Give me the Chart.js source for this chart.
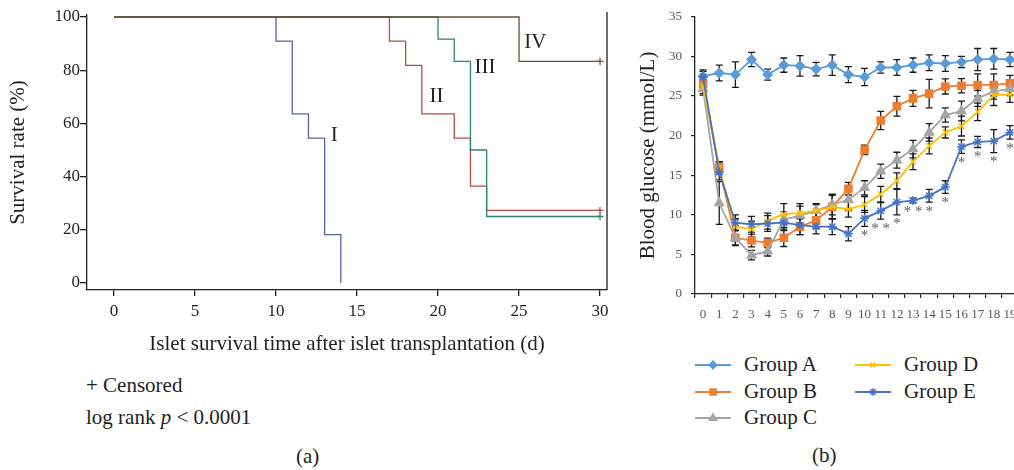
<!DOCTYPE html>
<html>
<head>
<meta charset="utf-8">
<title>Islet survival and blood glucose</title>
<script src="https://cdn.jsdelivr.net/npm/chart.js@4.4.1/dist/chart.umd.min.js"></script>
<style>
  html, body { margin: 0; padding: 0; background: #fff; overflow: hidden; }
  body { width: 1014px; height: 470px; position: relative; font-family: 'Liberation Serif', 'Times New Roman', serif; color: #231f20; }
  canvas { position: absolute; }
  #survChart { left: 0; top: 0; }
  #glucoseChart { left: 630px; top: 0; }
  .txt { position: absolute; font-size: 21px; line-height: 21px; white-space: nowrap; }
  .leg { position: absolute; height: 22px; width: 150px; }
  .leg canvas { left: 0; top: 4px; }
  .leg span { position: absolute; left: 49px; top: 0; font-size: 21px; line-height: 21px; white-space: nowrap; }
</style>
</head>
<body>
<canvas id="survChart" width="625" height="360"></canvas>
<canvas id="glucoseChart" width="420" height="330"></canvas>
<div class="txt" style="left:86px; top:375px;">+ Censored</div>
<div class="txt" style="left:86px; top:407px;">log rank <i>p</i> &lt; 0.0001</div>
<div class="txt" style="left:296px; top:446px;">(a)</div>
<div class="txt" style="left:812px; top:445px;">(b)</div>
<div id="legend"></div>
<script>
// ---- (a) islet survival, Kaplan-Meier ----
const survGroups = ['I', 'II', 'III', 'IV'];
const daysI = [0, 10, 11, 12, 13, 14];
const survI = [100, 90.9, 63.6, 54.5, 18.2, 0];
const daysII = [0, 17, 18, 19, 21, 22, 23, 30];
const survII = [100, 90.9, 81.8, 63.6, 54.5, 36.4, 27.3, 27.3];
const daysIII = [0, 20, 21, 22, 23, 30];
const survIII = [100, 91.7, 83.3, 50, 25, 25];
const daysIV = [0, 25, 30];
const survIV = [100, 83.3, 83.3];
const censored = [false, true, true, true];
const survTicksX = [0, 5, 10, 15, 20, 25, 30];
const survTicksY = [0, 20, 40, 60, 80, 100];
// where the group numerals are written (day, %)
const labelDay = [13.6, 19.9, 22.9, 26.0];
const labelSurv = [55.5, 70, 81, 90.5];

// ---- (b) blood glucose (mmol/L), mean and error ----
const days = ['0', '1', '2', '3', '4', '5', '6', '7', '8', '9', '10', '11', '12', '13', '14', '15', '16', '17', '18', '19'];
const groupNames = ['Group A', 'Group B', 'Group C', 'Group D', 'Group E'];
const groupA = [27.5, 27.9, 27.7, 29.6, 27.7, 28.9, 28.8, 28.4, 28.9, 27.7, 27.4, 28.6, 28.6, 28.9, 29.2, 29.1, 29.3, 29.6, 29.7, 29.6];
const errA = [0.8, 1.0, 1.6, 0.9, 0.7, 0.9, 1.3, 0.85, 1.3, 1.0, 1.1, 0.7, 1.0, 0.9, 1.0, 1.0, 0.7, 1.4, 1.3, 0.9];
const groupB = [26.5, 16.0, 7.1, 6.75, 6.45, 7.1, 8.5, 9.3, 11.0, 13.3, 18.2, 21.9, 23.7, 24.7, 25.3, 26.2, 26.3, 26.4, 26.4, 26.6];
const errB = [0.8, 0.7, 0.9, 0.8, 0.6, 1.1, 1.0, 1.0, 1.5, 0.8, 0.6, 1.15, 1.25, 1.0, 1.8, 0.95, 0.9, 1.4, 1.4, 1.0];
const groupC = [25.9, 11.5, 7.1, 4.9, 5.4, 9.4, 9.9, 10.5, 11.3, 11.9, 13.4, 15.5, 16.9, 18.3, 20.4, 22.6, 23.1, 24.7, 25.6, 25.9];
const errC = [0.8, 2.7, 1.0, 0.6, 0.6, 1.0, 1.2, 0.8, 1.3, 1.3, 0.9, 0.9, 1.0, 1.1, 1.1, 0.9, 1.25, 1.0, 1.0, 0.8];
const groupD = [26.2, 15.9, 8.5, 8.2, 9.2, 10.1, 10.2, 10.5, 11.0, 10.7, 11.3, 12.6, 14.3, 16.7, 18.7, 20.4, 21.2, 23.0, 25.1, 25.2];
const errD = [0.9, 0.8, 1.0, 1.0, 1.0, 1.3, 1.2, 0.9, 1.5, 1.0, 1.0, 1.0, 1.0, 1.0, 1.0, 0.7, 1.25, 1.1, 1.3, 1.0];
const groupE = [27.4, 15.4, 9.0, 8.8, 8.9, 9.0, 8.7, 8.5, 8.5, 7.6, 9.55, 10.5, 11.6, 11.8, 12.4, 13.5, 18.6, 19.2, 19.3, 20.4];
const errE = [0.7, 1.0, 1.0, 1.0, 1.0, 1.0, 1.2, 0.9, 1.0, 0.9, 1.0, 1.05, 1.6, 0.3, 0.8, 0.8, 0.85, 0.7, 1.45, 0.85];
// significance marks printed under group E
const sigE = ['', '', '', '', '', '', '', '', '', '', '*', '* *', '*', '* *', '*', '*', '*', '*', '*', '*'];

const serif = "'Liberation Serif', 'Times New Roman', serif";
const ink = '#231f20';

// ---------- chart (a) ----------
const survColors = ['#5566aa', '#b84a40', '#2f8378', '#6b4f36'];
const survDays = [daysI, daysII, daysIII, daysIV];
const survVals = [survI, survII, survIII, survIV];

const survDatasets = survGroups.map((g, i) => ({
  label: g,
  data: survDays[i].map((d, j) => ({ x: d, y: survVals[i][j] })),
  stepped: true,
  fill: false,
  borderColor: survColors[i],
  borderWidth: 1.3,
  pointStyle: 'cross',
  pointRadius: ctx => (censored[i] && ctx.dataIndex === survDays[i].length - 1) ? 3.5 : 0,
  pointHoverRadius: 0,
  pointBorderColor: survColors[i],
  pointBorderWidth: 1.3,
  order: 4 - i
}));

const survExtras = {
  id: 'survExtras',
  afterDatasetsDraw(chart) {
    const { ctx, chartArea, scales } = chart;
    ctx.save();
    // right side of the frame
    ctx.strokeStyle = ink;
    ctx.lineWidth = 1.3;
    ctx.beginPath();
    ctx.moveTo(chartArea.right, chartArea.top - 3);
    ctx.lineTo(chartArea.right, chartArea.bottom);
    ctx.stroke();
    // I, II, III, IV next to the curves
    ctx.fillStyle = ink;
    ctx.font = '21px ' + serif;
    ctx.textAlign = 'center';
    ctx.textBaseline = 'middle';
    survGroups.forEach((g, i) => {
      ctx.fillText(g, scales.x.getPixelForValue(labelDay[i]), scales.y.getPixelForValue(labelSurv[i]));
    });
    ctx.restore();
  }
};

new Chart(document.getElementById('survChart'), {
  type: 'line',
  data: { datasets: survDatasets },
  options: {
    responsive: false,
    animation: false,
    layout: { padding: { left: 2, top: 15, right: 18, bottom: 0 } },
    plugins: { legend: { display: false }, tooltip: { enabled: false } },
    scales: {
      x: {
        type: 'linear',
        min: -1.67,
        max: 30.43,
        afterBuildTicks: s => { s.ticks = survTicksX.map(v => ({ value: v })); },
        afterFit: s => { s.height = 70; },
        grid: { drawOnChartArea: false, tickLength: 6, color: ink, lineWidth: 1.3 },
        border: { color: ink, width: 1.3 },
        ticks: { color: ink, font: { family: serif, size: 17 }, padding: 5, maxRotation: 0 },
        title: {
          display: true,
          text: 'Islet survival time after islet transplantation (d)',
          color: ink,
          font: { family: serif, size: 21 },
          padding: { top: 0, bottom: 3 }
        }
      },
      y: {
        min: -2.63,
        max: 100.75,
        afterBuildTicks: s => { s.ticks = survTicksY.map(v => ({ value: v })); },
        afterFit: s => { s.width = 85; },
        grid: { drawOnChartArea: false, tickLength: 7, color: ink, lineWidth: 1.3 },
        border: { color: ink, width: 1.3 },
        ticks: { color: ink, font: { family: serif, size: 17 }, padding: 0 },
        title: {
          display: true,
          text: 'Survival rate (%)',
          color: ink,
          font: { family: serif, size: 21 },
          padding: { top: 4, bottom: 0 }
        }
      }
    }
  },
  plugins: [survExtras]
});

// ---------- chart (b) ----------
const glucoseColors = ['#5b9bd5', '#ed7d31', '#a5a5a5', '#ffc000', '#4472c4'];
const glucoseMarkers = ['rectRot', 'rect', 'triangle', 'crossRot', 'star'];
const markerSize = [4.5, 5, 5, 4, 4.5];
const glucoseVals = [groupA, groupB, groupC, groupD, groupE];
const glucoseErr = [errA, errB, errC, errD, errE];
const axisInk = '#262626';
const tickInk = '#595959';

const glucoseDatasets = groupNames.map((name, i) => ({
  label: name,
  data: glucoseVals[i],
  borderColor: glucoseColors[i],
  backgroundColor: glucoseColors[i],
  borderWidth: 1.8,
  pointStyle: glucoseMarkers[i],
  pointRadius: markerSize[i],
  pointHoverRadius: markerSize[i],
  pointBorderWidth: 1.5,
  tension: 0,
  fill: false,
  order: 5 - i
}));

const errorBars = {
  id: 'errorBars',
  beforeDatasetsDraw(chart) {
    const { ctx, scales: { y } } = chart;
    ctx.save();
    ctx.strokeStyle = '#1a1a1a';
    ctx.lineWidth = 1.3;
    chart.data.datasets.forEach((ds, i) => {
      chart.getDatasetMeta(i).data.forEach((pt, j) => {
        const v = glucoseVals[i][j];
        const e = glucoseErr[i][j];
        const top = y.getPixelForValue(v + e);
        const bot = y.getPixelForValue(v - e);
        ctx.beginPath();
        ctx.moveTo(pt.x, top); ctx.lineTo(pt.x, bot);
        ctx.moveTo(pt.x - 3.5, top); ctx.lineTo(pt.x + 3.5, top);
        ctx.moveTo(pt.x - 3.5, bot); ctx.lineTo(pt.x + 3.5, bot);
        ctx.stroke();
      });
    });
    ctx.restore();
  },
  afterDatasetsDraw(chart) {
    const { ctx, scales: { y } } = chart;
    const meta = chart.getDatasetMeta(4);
    ctx.save();
    ctx.fillStyle = tickInk;
    ctx.font = '15px ' + serif;
    ctx.textAlign = 'center';
    ctx.textBaseline = 'top';
    sigE.forEach((s, j) => {
      if (!s) return;
      ctx.fillText(s, meta.data[j].x, y.getPixelForValue(groupE[j] - errE[j]) + 2);
    });
    ctx.restore();
  }
};

new Chart(document.getElementById('glucoseChart'), {
  type: 'line',
  data: { labels: days, datasets: glucoseDatasets },
  options: {
    responsive: false,
    animation: false,
    layout: { padding: { left: 2, top: 13, right: 32, bottom: 0 } },
    plugins: { legend: { display: false }, tooltip: { enabled: false } },
    scales: {
      x: {
        offset: true,
        afterFit: s => { s.height = 36; },
        grid: { offset: true, drawOnChartArea: false, tickLength: 4, color: axisInk, lineWidth: 1.2 },
        border: { color: axisInk, width: 1.3 },
        ticks: { color: tickInk, font: { family: serif, size: 13 }, padding: 9, maxRotation: 0, autoSkip: false }
      },
      y: {
        min: 0,
        max: 35,
        afterFit: s => { s.width = 63; },
        grid: { drawOnChartArea: false, tickLength: 4, color: axisInk, lineWidth: 1.2 },
        border: { color: axisInk, width: 1.3 },
        ticks: { stepSize: 5, color: tickInk, font: { family: serif, size: 13 }, padding: 9 },
        title: {
          display: true,
          text: 'Blood glucose (mmol/L)',
          color: ink,
          font: { family: serif, size: 21 },
          padding: { top: 4, bottom: 0 }
        }
      }
    }
  },
  plugins: [errorBars]
});

// legend for (b): three rows, two columns
const legendX = [695, 855];
const legendY = [365, 392, 418];
const legend = document.getElementById('legend');
groupNames.forEach((name, i) => {
  const col = Math.floor(i / 3), row = i % 3;
  const item = document.createElement('div');
  item.className = 'leg';
  item.style.left = legendX[col] + 'px';
  item.style.top = (legendY[row] - 11) + 'px';
  const c = document.createElement('canvas');
  c.width = 36; c.height = 14;
  const g = c.getContext('2d');
  g.strokeStyle = glucoseColors[i];
  g.fillStyle = glucoseColors[i];
  g.lineWidth = 1.8;
  g.beginPath(); g.moveTo(0, 7); g.lineTo(36, 7); g.stroke();
  if (Chart.helpers && Chart.helpers.drawPoint) {
    g.lineWidth = 1.5;
    Chart.helpers.drawPoint(g, { pointStyle: glucoseMarkers[i], radius: markerSize[i] * 0.85, borderWidth: 1.5, rotation: 0 }, 18, 7);
  }
  const span = document.createElement('span');
  span.textContent = name;
  item.appendChild(c);
  item.appendChild(span);
  legend.appendChild(item);
});
</script>
</body>
</html>
